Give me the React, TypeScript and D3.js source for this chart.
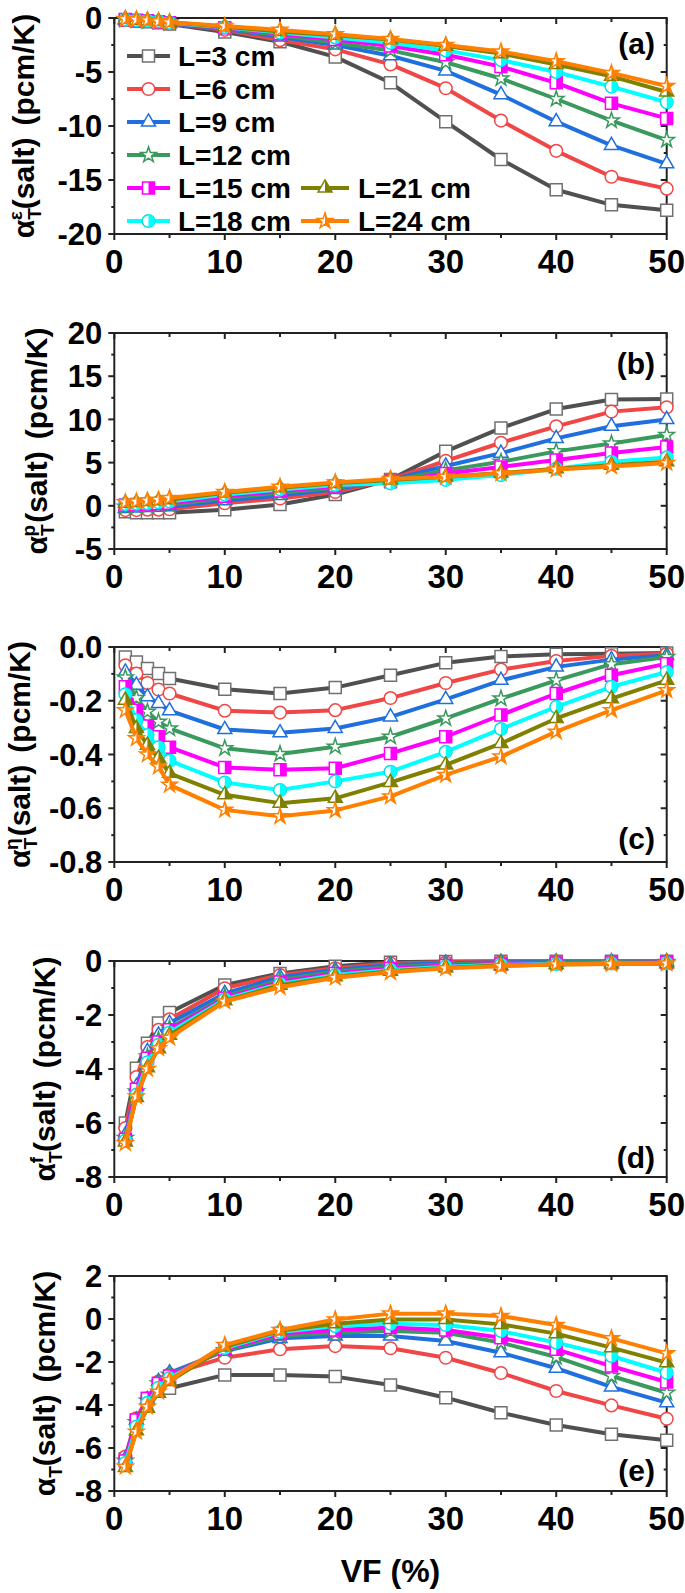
import React from 'react';
import * as d3 from 'd3';

// ---------- DATA ----------
const xValues = [1, 2, 3, 4, 5, 10, 15, 20, 25, 30, 35, 40, 45, 50];
const seriesNames = ['L=3 cm', 'L=6 cm', 'L=9 cm', 'L=12 cm', 'L=15 cm', 'L=18 cm', 'L=21 cm', 'L=24 cm'];
const seriesColors = ['#505050', '#f04646', '#1f6fdf', '#3a9a5e', '#ff00ff', '#00ffff', '#808000', '#ff8000'];
const markerStrokes = ['#707070', '#f04646', '#1f6fdf', '#3a9a5e', '#ff00ff', '#00e0e0', '#808000', '#ff8000'];

// (a) alpha_T^eps(salt)
const alphaEps = [
  [-0.2, -0.3, -0.35, -0.45, -0.55, -1.3, -2.2, -3.6, -6.0, -9.6, -13.1, -15.9, -17.3, -17.8],
  [-0.2, -0.25, -0.3, -0.4, -0.5, -1.1, -2.05, -2.9, -4.3, -6.5, -9.5, -12.3, -14.7, -15.8],
  [-0.2, -0.25, -0.3, -0.4, -0.5, -1.0, -1.75, -2.5, -3.5, -4.9, -7.1, -9.6, -11.8, -13.5],
  [-0.15, -0.2, -0.3, -0.35, -0.45, -0.95, -1.6, -2.3, -3.0, -4.1, -5.6, -7.5, -9.5, -11.3],
  [-0.15, -0.2, -0.25, -0.35, -0.45, -0.9, -1.45, -2.0, -2.6, -3.4, -4.5, -6.0, -7.9, -9.3],
  [-0.15, -0.2, -0.25, -0.3, -0.45, -0.85, -1.35, -1.8, -2.3, -3.0, -3.9, -5.0, -6.35, -7.8],
  [-0.1, -0.2, -0.25, -0.3, -0.4, -0.8, -1.25, -1.6, -2.0, -2.6, -3.3, -4.3, -5.4, -6.85],
  [-0.1, -0.15, -0.2, -0.3, -0.4, -0.75, -1.1, -1.5, -1.95, -2.5, -3.1, -4.0, -5.1, -6.3],
];
// (b) alpha_T^p(salt)
const alphaP = [
  [-0.7, -0.8, -0.8, -0.8, -0.8, -0.45, 0.15, 1.3, 3.05, 6.3, 9.0, 11.2, 12.3, 12.35],
  [-0.5, -0.5, -0.45, -0.45, -0.4, 0.3, 0.85, 1.6, 3.05, 5.2, 7.3, 9.2, 10.9, 11.4],
  [-0.3, -0.25, -0.2, -0.15, -0.1, 0.6, 1.2, 1.9, 3.0, 4.6, 6.1, 7.8, 9.2, 10.0],
  [-0.1, -0.05, 0, 0.05, 0.1, 0.9, 1.5, 2.1, 2.9, 4.1, 5.1, 6.3, 7.2, 8.2],
  [0.1, 0.15, 0.2, 0.25, 0.3, 1.1, 1.7, 2.3, 2.8, 3.75, 4.5, 5.3, 6.1, 6.8],
  [0.2, 0.25, 0.3, 0.4, 0.5, 1.3, 1.9, 2.4, 2.6, 3.0, 3.55, 4.3, 5.1, 5.6],
  [0.3, 0.4, 0.5, 0.6, 0.7, 1.5, 2.1, 2.6, 3.0, 3.35, 3.8, 4.3, 4.7, 5.1],
  [0.4, 0.5, 0.6, 0.7, 0.9, 1.6, 2.2, 2.7, 3.1, 3.35, 3.75, 4.2, 4.55, 4.95],
];
// (c) alpha_T^eta(salt)
const alphaEta = [
  [-0.037, -0.056, -0.08, -0.099, -0.117, -0.157, -0.173, -0.151, -0.105, -0.059, -0.035, -0.027, -0.025, -0.022],
  [-0.068, -0.099, -0.134, -0.158, -0.173, -0.237, -0.244, -0.235, -0.19, -0.134, -0.084, -0.052, -0.033, -0.025],
  [-0.093, -0.142, -0.185, -0.21, -0.237, -0.307, -0.319, -0.303, -0.26, -0.195, -0.124, -0.074, -0.047, -0.031],
  [-0.114, -0.19, -0.241, -0.278, -0.303, -0.377, -0.398, -0.371, -0.334, -0.266, -0.192, -0.124, -0.064, -0.037],
  [-0.148, -0.235, -0.294, -0.334, -0.373, -0.448, -0.457, -0.451, -0.396, -0.334, -0.253, -0.173, -0.105, -0.062],
  [-0.176, -0.272, -0.328, -0.373, -0.423, -0.504, -0.532, -0.5, -0.464, -0.39, -0.305, -0.223, -0.148, -0.093],
  [-0.198, -0.303, -0.365, -0.414, -0.47, -0.55, -0.581, -0.563, -0.504, -0.439, -0.359, -0.266, -0.192, -0.124],
  [-0.235, -0.34, -0.4, -0.445, -0.513, -0.606, -0.63, -0.608, -0.556, -0.476, -0.408, -0.315, -0.235, -0.161],
];
// (d) alpha_T^f(salt)
const alphaF = [
  [-6.0, -3.97, -3.05, -2.3, -1.91, -0.89, -0.46, -0.19, -0.05, -0.02, -0.01, -0.01, -0.01, -0.01],
  [-6.19, -4.3, -3.19, -2.55, -2.16, -1.01, -0.52, -0.27, -0.09, -0.05, -0.03, -0.02, -0.02, -0.02],
  [-6.44, -4.65, -3.35, -2.74, -2.3, -1.2, -0.6, -0.33, -0.15, -0.08, -0.05, -0.04, -0.03, -0.03],
  [-6.56, -4.83, -3.54, -2.92, -2.49, -1.32, -0.7, -0.4, -0.22, -0.12, -0.08, -0.06, -0.05, -0.04],
  [-6.6, -4.75, -3.6, -3.0, -2.55, -1.38, -0.78, -0.46, -0.28, -0.17, -0.11, -0.08, -0.07, -0.06],
  [-6.65, -4.95, -3.75, -3.1, -2.65, -1.42, -0.85, -0.52, -0.33, -0.21, -0.14, -0.11, -0.09, -0.08],
  [-6.7, -5.05, -3.95, -3.25, -2.75, -1.47, -0.9, -0.58, -0.38, -0.25, -0.17, -0.13, -0.11, -0.1],
  [-6.75, -5.02, -4.0, -3.23, -2.84, -1.5, -0.97, -0.62, -0.42, -0.27, -0.19, -0.12, -0.11, -0.09],
];
// (e) alpha_T(salt)
const alphaT = [
  [-6.5, -4.7, -3.7, -3.0, -3.22, -2.6, -2.6, -2.68, -3.07, -3.66, -4.36, -4.93, -5.36, -5.64],
  [-6.4, -4.62, -3.69, -2.91, -2.57, -1.8, -1.41, -1.26, -1.36, -1.8, -2.51, -3.35, -4.02, -4.64],
  [-6.5, -4.7, -3.75, -2.9, -2.5, -1.49, -0.9, -0.79, -0.79, -1.02, -1.57, -2.29, -3.16, -3.89],
  [-6.6, -4.8, -3.8, -3.0, -2.6, -1.45, -0.79, -0.64, -0.56, -0.64, -1.1, -1.77, -2.65, -3.43],
  [-6.6, -4.7, -3.7, -3.0, -2.65, -1.4, -0.68, -0.51, -0.4, -0.51, -0.87, -1.41, -2.19, -2.93],
  [-6.7, -5.0, -3.9, -3.2, -2.75, -1.35, -0.6, -0.33, -0.22, -0.28, -0.56, -1.1, -1.72, -2.5],
  [-6.9, -5.2, -4.15, -3.45, -2.9, -1.3, -0.55, -0.22, -0.02, -0.02, -0.25, -0.68, -1.33, -2.03],
  [-6.87, -5.24, -4.08, -3.38, -2.84, -1.21, -0.51, -0.02, 0.25, 0.25, 0.14, -0.28, -0.9, -1.6],
];

const xMajorTicks = [0, 10, 20, 30, 40, 50];
const xMinorTicks = [5, 15, 25, 35, 45];

// ---------- LAYOUT ----------
const W = 685;
const H = 1593;
const FONT = '"Liberation Sans", Arial, Helvetica, sans-serif';
const PLOT_LEFT = 114.3;
const PLOT_RIGHT = 666.7;

const panels = [
  { top: 18, bottom: 234, domain: [-20, 0], step: 5, dec: 0, sup: 'ε', tag: '(a)', tagY: 54, titleX: 34, data: alphaEps },
  { top: 333, bottom: 549, domain: [-5, 20], step: 5, dec: 0, sup: 'p', tag: '(b)', tagY: 374, titleX: 47, data: alphaP },
  { top: 647, bottom: 862, domain: [-0.8, 0], step: 0.2, dec: 1, sup: 'η', tag: '(c)', tagY: 849, titleX: 30, data: alphaEta },
  { top: 961, bottom: 1177, domain: [-8, 0], step: 2, dec: 0, sup: 'f', tag: '(d)', tagY: 1168, titleX: 55, data: alphaF },
  { top: 1276, bottom: 1491, domain: [-8, 2], step: 2, dec: 0, sup: '', tag: '(e)', tagY: 1481, titleX: 55, data: alphaT },
];

const SHAPES = [d3.symbolSquare, d3.symbolCircle, d3.symbolTriangle, d3.symbolStar];
const SIZES = [144, 125, 85, 75];

const xScale = d3.scaleLinear().domain([0, 50]).range([PLOT_LEFT, PLOT_RIGHT]);

function fmt(v: number, dec: number) {
  const s = v.toFixed(dec);
  return /^-0(\.0+)?$/.test(s) ? s.slice(1) : s;
}

function Marker({ idx, x, y }: { idx: number; x: number; y: number }) {
  const shape = idx % 4;
  const half = idx >= 4;
  const d = d3.symbol().type(SHAPES[shape]).size(SIZES[shape])() as string;
  return (
    <g transform={`translate(${x},${y})`}>
      <path d={d} fill="#fff" stroke={markerStrokes[idx]} strokeWidth={1.5} />
      {half && <path d={d} fill={seriesColors[idx]} clipPath="url(#rightHalf)" />}
    </g>
  );
}

function Panel({ p }: { p: typeof panels[number] }) {
  const y = d3.scaleLinear().domain(p.domain).range([p.bottom, p.top]);
  const nMajor = Math.round((p.domain[1] - p.domain[0]) / p.step);
  const major = d3.range(nMajor + 1).map((i) => +(p.domain[0] + i * p.step).toFixed(4));
  const minor = d3.range(nMajor).map((i) => +(p.domain[0] + (i + 0.5) * p.step).toFixed(4));
  const line = d3
    .line<number>()
    .x((_, i) => xScale(xValues[i]))
    .y((v) => y(v));
  const cy = (p.top + p.bottom) / 2;
  const axisColor = '#222';
  return (
    <g>
      <rect x={PLOT_LEFT} y={p.top} width={PLOT_RIGHT - PLOT_LEFT} height={p.bottom - p.top} fill="none" stroke={axisColor} strokeWidth={2} />
      {major.map((v) => (
        <g key={'ym' + v}>
          <line x1={PLOT_LEFT - 6} x2={PLOT_LEFT} y1={y(v)} y2={y(v)} stroke={axisColor} strokeWidth={2} />
          <line x1={PLOT_RIGHT - 6} x2={PLOT_RIGHT} y1={y(v)} y2={y(v)} stroke={axisColor} strokeWidth={2} />
          <text x={PLOT_LEFT - 12} y={y(v)} dy="0.36em" textAnchor="end" fontSize={31} fontWeight="bold" fontFamily={FONT} fill="#000">
            {fmt(v, p.dec)}
          </text>
        </g>
      ))}
      {minor.map((v) => (
        <g key={'yn' + v}>
          <line x1={PLOT_LEFT - 3} x2={PLOT_LEFT} y1={y(v)} y2={y(v)} stroke={axisColor} strokeWidth={2} />
          <line x1={PLOT_RIGHT - 3} x2={PLOT_RIGHT} y1={y(v)} y2={y(v)} stroke={axisColor} strokeWidth={2} />
        </g>
      ))}
      {xMajorTicks.map((v) => (
        <g key={'xm' + v}>
          <line x1={xScale(v)} x2={xScale(v)} y1={p.bottom} y2={p.bottom + 6} stroke={axisColor} strokeWidth={2} />
          <line x1={xScale(v)} x2={xScale(v)} y1={p.top} y2={p.top + 6} stroke={axisColor} strokeWidth={2} />
          <text x={xScale(v)} y={p.bottom + 39} textAnchor="middle" fontSize={33} fontWeight="bold" fontFamily={FONT} fill="#000">
            {v}
          </text>
        </g>
      ))}
      {xMinorTicks.map((v) => (
        <g key={'xn' + v}>
          <line x1={xScale(v)} x2={xScale(v)} y1={p.bottom} y2={p.bottom + 4} stroke={axisColor} strokeWidth={2} />
          <line x1={xScale(v)} x2={xScale(v)} y1={p.top} y2={p.top + 4} stroke={axisColor} strokeWidth={2} />
        </g>
      ))}
      <text transform={`translate(${p.titleX},${cy}) rotate(-90)`} textAnchor="middle" fontSize={30} fontWeight="bold" fontFamily={FONT} fill="#000">
        <tspan>α</tspan>
        <tspan fontSize={19} dy={7}>T</tspan>
        {p.sup ? (
          <>
            <tspan fontSize={19} dx={-12} dy={-19}>{p.sup}</tspan>
            <tspan dy={12} dx={p.sup === 'f' ? 5 : 2}>(salt)</tspan>
          </>
        ) : (
          <tspan dy={-7}>(salt)</tspan>
        )}
        <tspan dx={12}>(pcm/K)</tspan>
      </text>
      <text x={655} y={p.tagY} textAnchor="end" fontSize={30} fontWeight="bold" fontFamily={FONT} fill="#000">
        {p.tag}
      </text>
      {p.data.map((vals, si) => (
        <g key={'s' + si}>
          <path d={line(vals) as string} fill="none" stroke={seriesColors[si]} strokeWidth={4} strokeLinejoin="round" />
          {vals.map((v, i) => (
            <Marker key={i} idx={si} x={xScale(xValues[i])} y={y(v)} />
          ))}
        </g>
      ))}
    </g>
  );
}

function Legend() {
  const rowY = (r: number) => 56 + 33 * r;
  const pos = seriesNames.map((_, i) =>
    i < 6 ? { x1: 127, x2: 170, tx: 178, y: rowY(i) } : { x1: 301, x2: 349, tx: 358, y: rowY(i - 2) }
  );
  return (
    <g>
      {seriesNames.map((name, i) => {
        const q = pos[i];
        return (
          <g key={name}>
            <line x1={q.x1} x2={q.x2} y1={q.y} y2={q.y} stroke={seriesColors[i]} strokeWidth={4} />
            <Marker idx={i} x={(q.x1 + q.x2) / 2} y={q.y} />
            <text x={q.tx} y={q.y} dy="0.36em" fontSize={28} fontWeight="bold" fontFamily={FONT} fill="#000">
              {name}
            </text>
          </g>
        );
      })}
    </g>
  );
}

export default function App() {
  return (
    <svg width={W} height={H} viewBox={`0 0 ${W} ${H}`} style={{ position: 'absolute', left: 0, top: 0, display: 'block', background: '#fff' }}>
      <defs>
        <clipPath id="rightHalf" clipPathUnits="objectBoundingBox">
          <rect x={0.5} y={-0.1} width={0.6} height={1.2} />
        </clipPath>
      </defs>
      <rect width={W} height={H} fill="#fff" />
      {panels.map((p) => (
        <Panel key={p.tag} p={p} />
      ))}
      <Legend />
      <text x={(PLOT_LEFT + PLOT_RIGHT) / 2} y={1582} textAnchor="middle" fontSize={32} fontWeight="bold" fontFamily={FONT} fill="#000">
        VF (%)
      </text>
    </svg>
  );
}
